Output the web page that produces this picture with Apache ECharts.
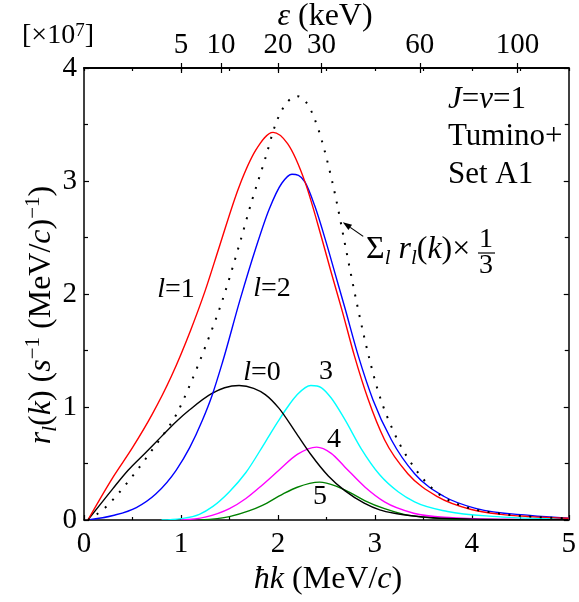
<!DOCTYPE html>
<html><head><meta charset="utf-8">
<script src="https://cdn.jsdelivr.net/npm/echarts@6/dist/echarts.min.js"></script>
<style>html,body{margin:0;padding:0;background:#fff}#c{width:579px;height:602px}</style>
</head><body><div id="c"></div>
<script>
const FONT = '"Liberation Serif","Times New Roman",Times,serif';
// top axis: epsilon (keV) tick labels, eps = 5 * k^2
const epsTicks = [5, 10, 20, 30, 60, 100];
const EPS_PER_K2 = 5;
const xTicksInterval = 1;
const yTicksInterval = 1;

// [hbar k (MeV/c), r_l (1e7)]
const l0 = [[0.04,0],[0.17,0.14],[0.30,0.28],[0.455,0.44],[0.64,0.60],[0.80,0.74],[0.95,0.87],[1.09,0.975],[1.32,1.12],[1.45,1.17],[1.60,1.19],[1.75,1.165],[1.87,1.11],[2.01,0.99],[2.18,0.78],[2.34,0.58],[2.52,0.39],[2.69,0.26],[2.89,0.15],[3.05,0.09],[3.23,0.055],[3.6,0.02],[4.0,0.008],[5.0,0.002]];
const l1 = [[0.04,0],[0.30,0.38],[0.50,0.64],[0.70,0.93],[0.90,1.27],[1.10,1.68],[1.25,2.03],[1.40,2.43],[1.60,2.95],[1.77,3.27],[1.95,3.43],[2.10,3.33],[2.28,2.99],[2.45,2.50],[2.55,2.19],[2.66,1.86],[2.79,1.45],[2.93,1.07],[3.10,0.71],[3.34,0.41],[3.645,0.207],[3.985,0.095],[4.3,0.05],[4.6,0.03],[5.0,0.015]];
const l2 = [[0.04,0],[0.30,0.04],[0.54,0.11],[0.74,0.23],[0.95,0.44],[1.09,0.64],[1.22,0.88],[1.32,1.10],[1.43,1.40],[1.61,1.95],[1.77,2.40],[1.91,2.75],[2.04,2.98],[2.145,3.06],[2.28,2.99],[2.38,2.78],[2.50,2.45],[2.59,2.18],[2.69,1.88],[2.83,1.45],[2.98,1.065],[3.17,0.71],[3.41,0.41],[3.71,0.21],[4.05,0.10],[4.6,0.04],[5.0,0.015]];
const l3 = [[0.8,0],[1.0,0.012],[1.19,0.05],[1.33,0.12],[1.50,0.25],[1.67,0.42],[1.87,0.69],[2.0,0.87],[2.1,1.0],[2.2,1.11],[2.34,1.19],[2.45,1.17],[2.55,1.08],[2.69,0.89],[2.86,0.63],[3.05,0.40],[3.24,0.25],[3.41,0.16],[3.75,0.075],[4.26,0.03],[5.0,0.01]];
const l4 = [[1.0,0],[1.25,0.025],[1.50,0.10],[1.67,0.19],[1.84,0.31],[2.01,0.44],[2.2,0.58],[2.40,0.645],[2.55,0.59],[2.69,0.47],[2.90,0.29],[3.10,0.16],[3.4,0.06],[3.8,0.02],[4.5,0.005],[5.0,0.002]];
const l5 = [[1.2,0],[1.5,0.03],[1.70,0.08],[1.84,0.13],[2.05,0.23],[2.2,0.29],[2.43,0.335],[2.60,0.30],[2.75,0.24],[2.9,0.17],[3.1,0.10],[3.3,0.05],[3.6,0.018],[4.2,0.004],[5.0,0.001]];
const sum3 = [[0.04,0],[0.22,0.11],[0.35,0.23],[0.475,0.36],[0.60,0.50],[0.72,0.64],[0.83,0.77],[0.95,0.93],[1.09,1.19],[1.25,1.53],[1.43,1.95],[1.60,2.43],[1.73,2.82],[1.87,3.20],[1.975,3.50],[2.08,3.68],[2.20,3.75],[2.32,3.66],[2.42,3.45],[2.52,3.14],[2.60,2.84],[2.69,2.45],[2.78,2.06],[2.89,1.62],[3.03,1.15],[3.20,0.77],[3.41,0.46],[3.645,0.24],[3.92,0.12],[4.26,0.06],[4.6,0.03],[5.0,0.015]];
// annotation arrow: [k_from, r_from, k_to, r_to]
const arrow = [[2.88, 2.51, 2.67, 2.635]];

const chart = echarts.init(document.getElementById('c'));
const epsK = epsTicks.map(e => Math.sqrt(e / EPS_PER_K2));

// smooth cubic Hermite path through pixel points (x increasing)
function smoothPath(p) {
  const n = p.length;
  const h = [], s = [];
  for (let i = 0; i < n - 1; i++) { h[i] = p[i+1][0] - p[i][0]; s[i] = (p[i+1][1] - p[i][1]) / h[i]; }
  const t = new Array(n);
  for (let i = 1; i < n - 1; i++) {
    const s0 = s[i-1], s1 = s[i], h0 = h[i-1], h1 = h[i];
    if (s0 * s1 <= 0) { t[i] = 0; continue; }
    const q = (s0 * h1 + s1 * h0) / (h0 + h1);
    const lim = 3 * Math.min(Math.abs(s0), Math.abs(s1));
    t[i] = Math.sign(q) * Math.min(Math.abs(q), lim);
  }
  t[0] = (3 * s[0] - t[1]) / 2; if (t[0] * s[0] < 0) t[0] = 0;
  t[n-1] = (3 * s[n-2] - t[n-2]) / 2; if (t[n-1] * s[n-2] < 0) t[n-1] = 0;
  let d = 'M' + p[0][0] + ' ' + p[0][1];
  for (let i = 0; i < n - 1; i++) {
    const dx = h[i] / 3;
    d += ' C' + (p[i][0] + dx) + ' ' + (p[i][1] + dx * t[i]) + ' ' + (p[i+1][0] - dx) + ' ' + (p[i+1][1] - dx * t[i+1]) + ' ' + p[i+1][0] + ' ' + p[i+1][1];
  }
  return d;
}
const curve = (data, color, width, dash) => ({
  type: 'custom', data, silent: true, animation: false, clip: true, z: 3,
  encode: { x: 0, y: 1 },
  renderItem: (params, api) => {
    if (params.dataIndex !== 0) return null;
    const pts = data.map(d => api.coord(d));
    return { type: 'path', shape: { pathData: smoothPath(pts) },
      style: { fill: 'none', stroke: color, lineWidth: width, lineDash: dash || null, lineCap: 'butt' } };
  }
});
const axisBase = { min: 0, max: 5, type: 'value', splitLine: { show: false },
  axisLine: { show: true, onZero: false, lineStyle: { color: '#000', width: 1.5 } } };
const TICKFS = 29;
const T = (text, x, y, size, extra) => ({ type: 'text', x, y, z: 10, style: Object.assign({
  text, fontSize: size, fontFamily: FONT, fill: '#000', align: 'center', verticalAlign: 'middle',
  rich: { i: { fontStyle: 'italic', fontSize: size, fontFamily: FONT } }
}, extra || {}) });

chart.setOption({
  animation: false,
  backgroundColor: '#fff',
  grid: { left: 84, right: 6, top: 68, bottom: 82 },
  xAxis: [
    Object.assign({}, axisBase, { position: 'bottom', interval: xTicksInterval,
      axisTick: { inside: true, length: 5, lineStyle: { color: '#000', width: 1.2 } },
      minorTick: { show: true, splitNumber: 2, length: 3, lineStyle: { color: '#000', width: 1.2 } },
      axisLabel: { color: '#000', fontSize: TICKFS, fontFamily: FONT, margin: 10 } }),
    Object.assign({}, axisBase, { position: 'top', interval: 0.5,
      axisTick: { inside: true, length: 3, lineStyle: { color: '#000', width: 1.2 } },
      axisLabel: { show: false } }),
    Object.assign({}, axisBase, { position: 'top',
      axisTick: { inside: false, length: 5, customValues: epsK, lineStyle: { color: '#000', width: 1.2 } },
      axisLabel: { show: true, customValues: epsK, color: '#000', fontSize: TICKFS, fontFamily: FONT, margin: 8,
        formatter: v => String(Math.round(EPS_PER_K2 * v * v)) } }),
    Object.assign({}, axisBase, { position: 'top',
      axisTick: { inside: true, length: 5, customValues: epsK, lineStyle: { color: '#000', width: 1.2 } },
      axisLabel: { show: false } })
  ],
  yAxis: [
    { type: 'value', min: 0, max: 4, interval: yTicksInterval, position: 'left', splitLine: { show: false },
      axisLine: { show: true, onZero: false, lineStyle: { color: '#000', width: 1.5 } },
      axisTick: { inside: true, length: 5, lineStyle: { color: '#000', width: 1.2 } },
      minorTick: { show: true, splitNumber: 2, length: 4, lineStyle: { color: '#000', width: 1.2 } },
      axisLabel: { color: '#000', fontSize: TICKFS, fontFamily: FONT, margin: 7 } },
    { type: 'value', min: 0, max: 4, interval: yTicksInterval, position: 'right', splitLine: { show: false },
      axisLine: { show: true, onZero: false, lineStyle: { color: '#000', width: 1.5 } },
      axisTick: { inside: true, length: 5, lineStyle: { color: '#000', width: 1.2 } },
      minorTick: { show: true, splitNumber: 2, length: 4, lineStyle: { color: '#000', width: 1.2 } },
      axisLabel: { show: false } }
  ],
  series: [
    curve(l5, '#008000', 1.4),
    curve(l4, '#ff00ff', 1.4),
    curve(l3, '#00ffff', 1.4),
    curve(l0, '#000000', 1.4),
    curve(l2, '#0000ff', 1.4),
    curve(l1, '#ff0000', 1.4),
    curve(sum3, '#000000', 2, [2, 8.5]),
    { type: 'custom', data: arrow, silent: true, animation: false, z: 5,
      encode: { x: [0, 2], y: [1, 3] },
      renderItem: (params, api) => {
        const a = api.coord([api.value(0), api.value(1)]);
        const b = api.coord([api.value(2), api.value(3)]);
        const ang = Math.atan2(b[1] - a[1], b[0] - a[0]);
        const L = 9, W = 3.2;
        const bx = b[0] - L * Math.cos(ang), by = b[1] - L * Math.sin(ang);
        const nx = -Math.sin(ang) * W, ny = Math.cos(ang) * W;
        return { type: 'group', children: [
          { type: 'line', shape: { x1: a[0], y1: a[1], x2: bx, y2: by }, style: { stroke: '#000', lineWidth: 1.2 } },
          { type: 'polygon', shape: { points: [[b[0], b[1]], [bx + nx, by + ny], [bx - nx, by - ny]] }, style: { fill: '#000' } }
        ] };
      } }
  ],
  graphic: [
    T('{i|ε} (keV)', 325, 17, 32),
    T('[×10{sup|7}]', 58, 36, 28, { rich: { sup: { fontSize: 19, verticalAlign: 'top', fontFamily: FONT }, i: {} } }),
    T('{i|ħk} (MeV/{i|c})', 328, 580, 32),
    { type: 'text', x: 42, y: 315, rotation: Math.PI / 2, z: 10, style: {
      text: '{i|r}{sub|l}({i|k}) ({i|s}{sup|−1} (MeV/{i|c}){sup|−1})',
      fontSize: 32, fontFamily: FONT, fill: '#000', align: 'center', verticalAlign: 'middle', lineHeight: 38,
      rich: { i: { fontStyle: 'italic', fontSize: 32, fontFamily: FONT, lineHeight: 38 },
        sub: { fontStyle: 'italic', fontSize: 21, fontFamily: FONT, verticalAlign: 'bottom', lineHeight: 38 },
        sup: { fontSize: 21, fontFamily: FONT, verticalAlign: 'top', lineHeight: 38 } } } },
    T('{i|l}=1', 176, 290, 28),
    T('{i|l}=2', 272, 289, 28),
    T('{i|l}=0', 262, 373, 28),
    T('3', 326, 372, 28),
    T('4', 334, 440, 28),
    T('5', 320, 497, 28),
    T('{i|J}={i|ν}=1', 448, 100, 31, { align: 'left' }),
    T('Tumino+', 448, 137, 31, { align: 'left' }),
    T('Set A1', 448, 175, 31, { align: 'left' }),
    { type: 'text', x: 366, y: 250, z: 10, style: {
      text: 'Σ{sub|l} {i|r}{sub|l}({i|k})×', fontSize: 32, fontFamily: FONT, fill: '#000', align: 'left', verticalAlign: 'middle', lineHeight: 38,
      rich: { i: { fontStyle: 'italic', fontSize: 32, fontFamily: FONT, lineHeight: 38 },
        sub: { fontStyle: 'italic', fontSize: 21, fontFamily: FONT, verticalAlign: 'bottom', lineHeight: 38 } } } },
    T('1', 486, 240, 28),
    { type: 'line', z: 10, shape: { x1: 478, y1: 253, x2: 495, y2: 253 }, style: { stroke: '#000', lineWidth: 1.2 } },
    T('3', 486, 266, 28)
  ]
});
</script></body></html>
